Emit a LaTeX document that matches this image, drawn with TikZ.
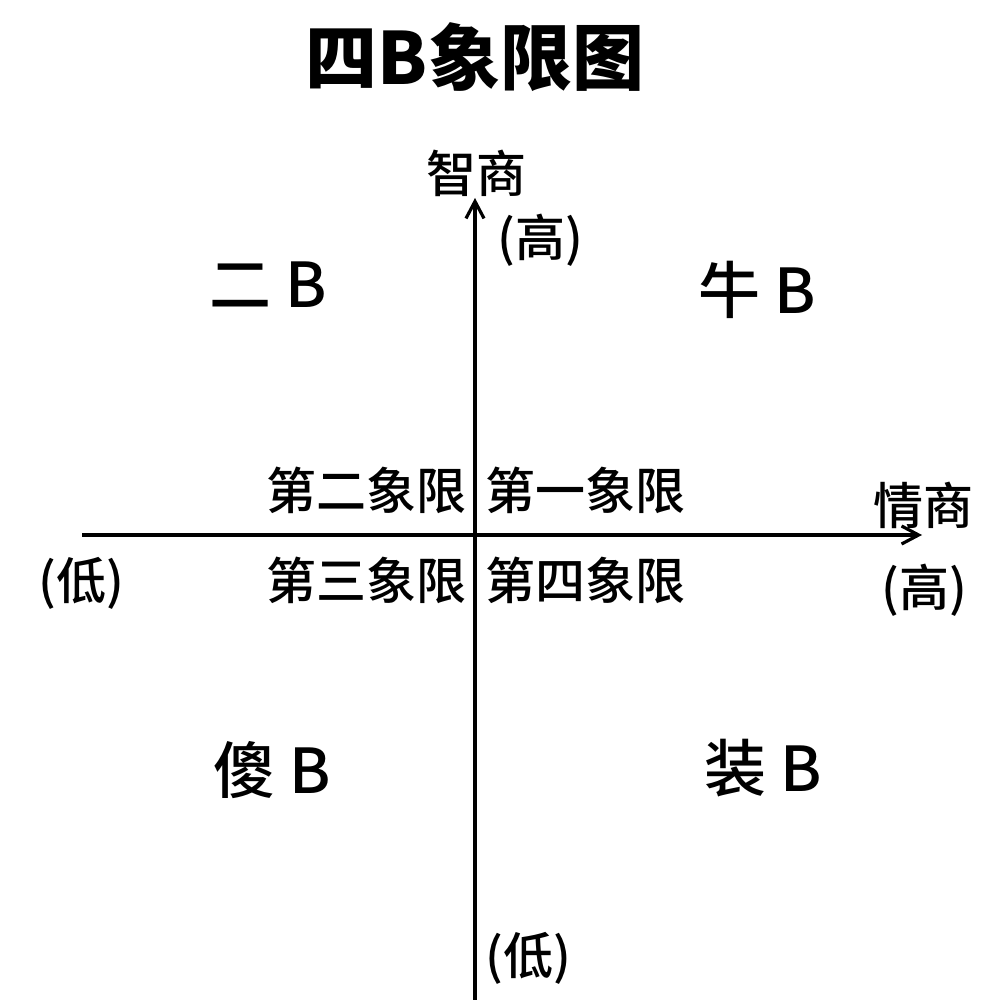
\documentclass[tikz,border=0pt]{standalone}
\usepackage{fontspec}
\setmainfont{Noto Sans CJK SC}
\newfontfamily\cjkmed{Noto Sans CJK SC Medium}
\usetikzlibrary{arrows.meta}
\tikzset{
  axis/.style={line width=2pt, -{Straight Barb[length=8.5pt,width=9pt,line width=1.6pt]}},
  title/.style={inner sep=0pt, font=\fontsize{36pt}{40pt}\selectfont\bfseries},
  big/.style={inner sep=0pt, font=\fontsize{31pt}{35pt}\selectfont\cjkmed},
  lbl/.style={inner sep=0pt, font=\fontsize{25pt}{29pt}\selectfont\cjkmed},
}
\begin{document}
\begin{tikzpicture}[x=0.5pt,y=-0.5pt]
\useasboundingbox[fill=white] (0,0) rectangle (1000,1000);
\coordinate (vb) at (475,1000);
\coordinate (vt) at (475,198);
\coordinate (hl) at (82,535);
\coordinate (hr) at (922,535);
\draw[axis] (vb) -- (vt);
\draw[axis] (hl) -- (hr);
\node[title] (t) at (475,57) {四B象限图};
\node[lbl] (iq) at (476,173) {智商};
\node[lbl] (iqh) at (540,240) {(高)};
\node[lbl] (iql) at (528,958) {(低)};
\node[lbl] (eq) at (923,505) {情商};
\node[lbl] (eqh) at (924,590) {(高)};
\node[lbl] (eql) at (81,583) {(低)};
\node[lbl] (q2) at (366,490) {第二象限};
\node[lbl] (q1) at (585,490) {第一象限};
\node[lbl] (q3) at (366,580) {第三象限};
\node[lbl] (q4) at (585,580) {第四象限};
\node[big] (b2) at (268,285) {二 B};
\node[big] (b1) at (757,290) {牛 B};
\node[big] (b3) at (272,770) {傻 B};
\node[big] (b4) at (763,768) {装 B};
\end{tikzpicture}
\end{document}
